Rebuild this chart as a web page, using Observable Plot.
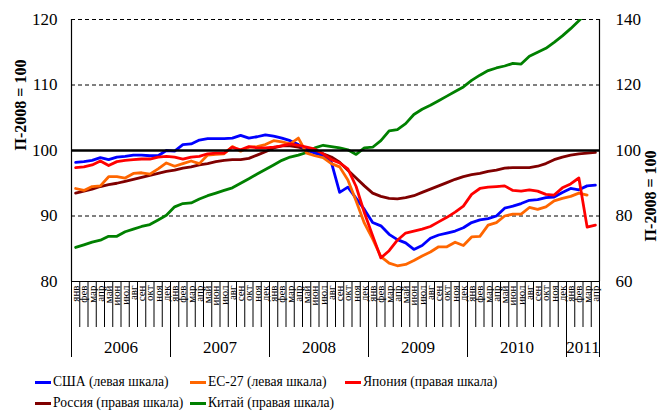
<!DOCTYPE html>
<html><head><meta charset="utf-8">
<script src="https://cdn.jsdelivr.net/npm/d3@7"></script>
<script src="https://cdn.jsdelivr.net/npm/@observablehq/plot@0.6"></script>
<style>
body{margin:0;background:#fff;font-family:"Liberation Serif","Times New Roman",Times,serif;color:#000}
#chart svg{display:block}
.legend{position:relative;height:50px;width:664px;font-size:13.6px}
.item{position:absolute;display:flex;align-items:center;white-space:nowrap;height:18px;line-height:18px}
.sw{width:16px;height:3px;margin-right:2px}
</style></head><body>
<div id="chart"></div>
<div class="legend" id="legend"></div>
<script>
const months = ["янв","фев","мар","апр","май","июн","июл","авг","сен","окт","ноя","дек"];
const years = ["2006","2007","2008","2009","2010","2011"];
const yearStarts = [0,12,24,36,48,60,64];

// left scale
const usa = [98.2,98.3,98.5,98.9,98.6,99.0,99.1,99.3,99.3,99.2,99.2,100.0,
 99.9,100.9,101.0,101.6,101.8,101.8,101.8,101.9,102.3,101.9,102.1,102.4,
 102.2,101.9,101.5,100.9,100.1,99.6,99.2,98.2,93.6,94.4,92.7,91.0,
 89.0,88.5,87.2,86.4,85.9,84.9,85.5,86.6,87.1,87.4,87.7,88.2,
 89.0,89.4,89.6,90.0,91.2,91.5,91.9,92.4,92.5,92.8,92.9,93.6,
 94.2,94.0,94.6,94.7];
const eu27 = [94.2,93.9,94.5,94.6,96.0,96.0,95.8,96.5,96.6,96.4,97.2,98.1,
 97.6,98.0,98.4,98.0,99.3,99.4,99.5,100.6,99.9,100.5,100.6,100.9,
 101.5,101.3,101.0,101.9,99.6,99.2,98.9,98.0,97.5,95.5,92.3,88.9,
 86.5,83.8,82.8,82.4,82.6,83.2,83.9,84.5,85.3,85.3,86.0,85.5,
 86.8,86.9,88.6,89.0,90.0,90.3,90.3,91.3,91.0,91.4,92.3,92.7,
 93.0,93.5,93.2];
// right scale
const japan = [94.8,95.0,95.6,96.8,95.4,96.6,97.0,97.2,97.4,97.4,98.0,98.2,
 98.0,97.4,98.0,98.2,99.0,99.2,99.2,101.0,100.2,101.2,100.8,100.8,
 101.0,101.4,102.0,101.6,101.0,100.4,99.0,97.2,96.2,94.4,89.0,81.0,
 74.0,67.2,69.4,72.6,74.8,75.4,76.0,76.8,78.2,79.6,81.2,83.0,
 86.6,88.4,88.8,89.0,89.2,87.8,87.6,88.0,87.6,86.6,86.4,88.6,
 89.8,91.6,76.6,77.2];
const russia = [87.0,87.6,88.2,89.0,89.6,90.0,90.6,91.2,91.8,92.4,93.0,93.6,
 94.0,94.6,95.0,95.6,96.0,96.6,97.0,97.2,97.2,97.6,98.6,99.6,
 100.8,101.4,101.4,101.0,100.4,99.8,99.0,98.0,96.4,94.0,91.6,89.2,
 87.0,86.0,85.4,85.2,85.6,86.2,87.2,88.2,89.2,90.2,91.2,92.0,
 92.6,93.0,93.6,94.0,94.6,94.8,94.8,94.8,95.2,96.0,97.2,98.0,
 98.6,99.0,99.2,99.4];
const china = [70.4,71.2,72.0,72.6,73.8,73.8,75.2,76.0,76.8,77.4,78.8,80.2,
 82.8,83.8,84.0,85.2,86.2,87.0,87.8,88.6,90.0,91.4,92.8,94.2,
 95.6,97.0,98.0,98.6,99.4,100.8,101.6,101.2,100.8,100.2,98.8,100.8,
 101.0,103.0,106.0,106.4,108.2,111.0,112.6,113.8,115.2,116.6,118.0,119.4,
 121.4,123.0,124.4,125.2,125.8,126.6,126.4,128.8,130.0,131.2,133.0,135.0,
 137.2,139.6,142.2,144.6];

const seriesNames = ["США (левая шкала)","ЕС-27 (левая шкала)","Япония (правая шкала)","Россия (правая шкала)","Китай (правая шкала)"];
const seriesColors = ["#0000FF","#FF6600","#FF0000","#800000","#008000"];
const seriesValues = [usa, eu27, japan, russia, china];
const seriesRight = [false,false,true,true,true];

// right scale 60..140 maps onto left 80..120
const toLeft = v => 100 + (v - 100) / 2;

const data = seriesNames.flatMap((name, k) =>
  seriesValues[k].map((v, i) => ({name, i: i + 0.5, y: seriesRight[k] ? toLeft(v) : v})));

const lines = [4,3,0,1,2].map(k => Plot.line(data.filter(d => d.name === seriesNames[k]), {
  x: "i", y: "y", stroke: seriesColors[k], strokeWidth: 2.8, clip: true
}));

const serif = "'Liberation Serif', 'Times New Roman', Times, serif";
const chart = Plot.plot({
  width: 664, height: 362,
  marginTop: 19, marginBottom: 81, marginLeft: 71, marginRight: 65,
  style: {fontFamily: serif, fontSize: "17px", color: "#000", background: "#fff", overflow: "visible"},
  x: {domain: [0, 64]},
  y: {domain: [80, 120]},
  marks: [
    Plot.ruleY([90, 110, 120], {stroke: "#000", strokeWidth: 1, strokeDasharray: "4,3"}),
    Plot.axisY({anchor: "left", ticks: [80,90,100,110,120], tickSize: 0, tickPadding: 14, label: null, fontSize: 17}),
    Plot.axisY({anchor: "right", ticks: [80,90,100,110,120], tickFormat: d => String(2*d - 100), tickSize: 0, tickPadding: 16, label: null, fontSize: 17}),
    Plot.axisX({ticks: d3.range(0, 65), tickSize: 46, tickFormat: () => "", label: null, strokeWidth: 1}),
    Plot.axisX({ticks: yearStarts, tickSize: 76, tickFormat: () => "", label: null, strokeWidth: 1}),
    Plot.axisX({ticks: d3.range(64).map(i => i + 0.5), tickSize: 0, tickPadding: 4, tickRotate: -90,
      tickFormat: d => months[Math.floor(d) % 12], label: null, fontSize: 11}),
    Plot.axisX({ticks: years.map((y, j) => (yearStarts[j] + yearStarts[j+1]) / 2), tickSize: 0, tickPadding: 59,
      tickFormat: d => years[Math.min(5, Math.floor(d / 12))], label: null, fontSize: 17}),
    Plot.text(["П-2008 = 100"], {frameAnchor: "left", dx: -51, rotate: -90, fontWeight: "bold", fontSize: 16, text: d => d}),
    Plot.text(["П-2008 = 100"], {frameAnchor: "right", dx: 51, rotate: -90, fontWeight: "bold", fontSize: 16, text: d => d}),
    ...lines,
    Plot.ruleY([100], {stroke: "#000", strokeWidth: 2.5}),
    Plot.ruleX([0, 64], {stroke: "#000", strokeWidth: 1.2}),
    Plot.ruleY([80], {stroke: "#000", strokeWidth: 1.2})
  ]
});
document.getElementById("chart").appendChild(chart);

const legendPos = [[35,11],[190,11],[345,11],[35,32],[190,32]];
const legend = document.getElementById("legend");
seriesNames.forEach((name, k) => {
  const it = document.createElement("div");
  it.className = "item";
  it.style.left = legendPos[k][0] + "px";
  it.style.top = legendPos[k][1] + "px";
  const sw = document.createElement("span");
  sw.className = "sw"; sw.style.background = seriesColors[k];
  const t = document.createElement("span"); t.textContent = name;
  it.appendChild(sw); it.appendChild(t);
  legend.appendChild(it);
});
</script>
</body></html>
